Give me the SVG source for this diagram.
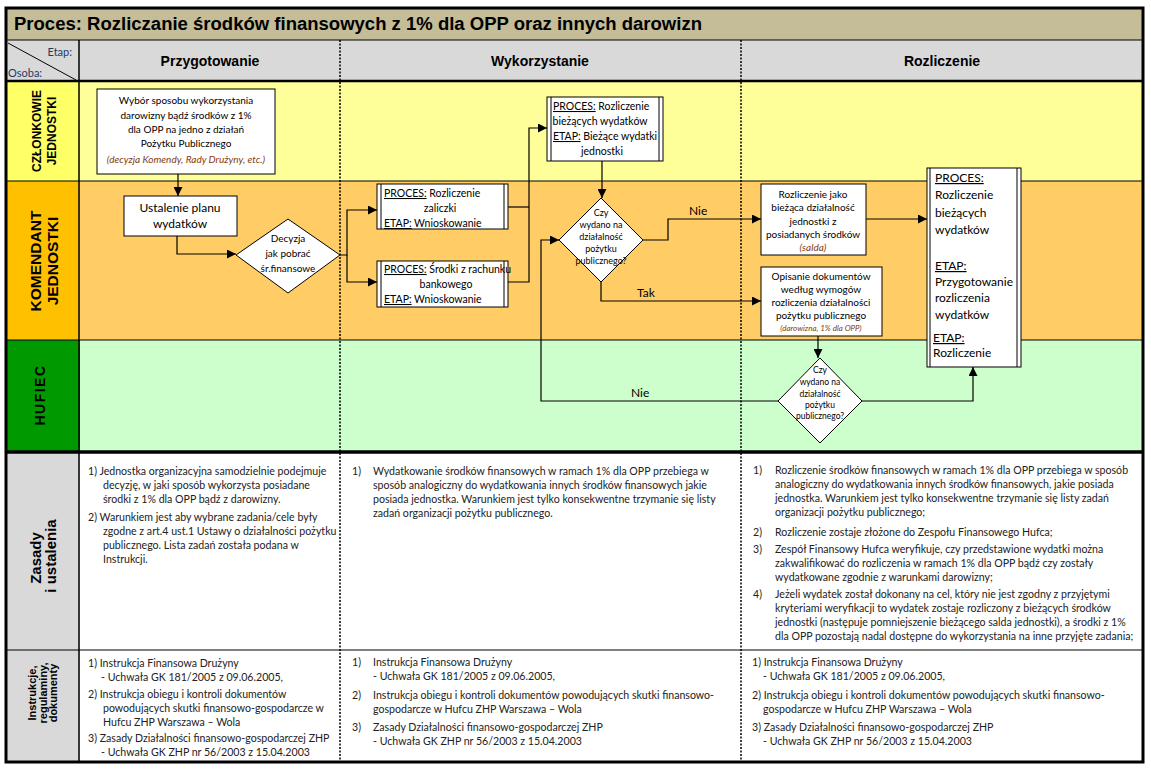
<svg xmlns="http://www.w3.org/2000/svg" width="1151" height="771" viewBox="0 0 1151 771">
<style>
.hdr{font-family:"Liberation Sans",Arial,sans-serif;font-weight:bold;font-size:14px;fill:#000;text-anchor:middle}
.lbl{font-family:"Liberation Sans",Arial,sans-serif;font-weight:bold;fill:#000;text-anchor:middle}
.t{font-family:Lato,"Open Sans",sans-serif;fill:#000}
.tc{font-family:Lato,"Open Sans",sans-serif;fill:#000;text-anchor:middle}
.it{font-style:italic;fill:#843C0C}
.u{text-decoration:underline}
.box{fill:#fff;stroke:#000;stroke-width:1}
.dash{stroke:#000;stroke-width:1.5;stroke-dasharray:2,1.5}
.ln{stroke:#000;stroke-width:1;fill:none}
.conn path{fill:none;stroke:#000;stroke-width:1.2}
.body{font-family:Lato,"Open Sans",sans-serif;font-size:10.6px;fill:#222}
</style>
<defs>
<marker id="ar" viewBox="0 0 10 10" refX="10" refY="5" markerWidth="9" markerHeight="9" markerUnits="userSpaceOnUse" orient="auto"><path d="M0,0 L10,5 L0,10 z" fill="#000"/></marker>
</defs>
<rect width="1151" height="771" fill="#fff"/>
<g id="title">
<rect x="6" y="8" width="1137" height="32" fill="#C4BD97"/>
<text x="14" y="30" textLength="688" lengthAdjust="spacingAndGlyphs" style="font-family:'Liberation Sans',Arial,sans-serif;font-weight:bold;font-size:18px">Proces:  Rozliczanie środków finansowych z 1% dla OPP oraz innych darowizn</text>
</g>
<g id="header">
<rect x="6" y="40" width="1137" height="41" fill="#D9D9D9"/>
<line x1="8" y1="43" x2="76" y2="80" class="ln"/>
<text x="72" y="56" style="font-family:Lato,sans-serif;font-size:11px;fill:#1F3864;text-anchor:end">Etap:</text>
<text x="8" y="77" style="font-family:Lato,sans-serif;font-size:11px;fill:#1F3864">Osoba:</text>
<text x="210" y="66" class="hdr">Przygotowanie</text>
<text x="540" y="66" class="hdr">Wykorzystanie</text>
<text x="942" y="66" class="hdr">Rozliczenie</text>
</g>
<g id="lane-czlonkowie">
<rect x="6" y="81" width="74" height="100" fill="#FFFF66"/>
<rect x="80" y="81" width="1063" height="100" fill="#FFFF99"/>
<text class="lbl" font-size="12" transform="translate(41,131) rotate(-90)">CZŁONKOWIE</text>
<text class="lbl" font-size="12" transform="translate(56,131) rotate(-90)">JEDNOSTKI</text>
</g>
<g id="lane-komendant">
<rect x="6" y="181" width="74" height="159" fill="#FFC000"/>
<rect x="80" y="181" width="1063" height="159" fill="#FFCC66"/>
<text class="lbl" font-size="15.5" transform="translate(41,261) rotate(-90)">KOMENDANT</text>
<text class="lbl" font-size="15.5" transform="translate(58,261) rotate(-90)">JEDNOSTKI</text>
</g>
<g id="lane-hufiec">
<rect x="6" y="340" width="74" height="111" fill="#009900"/>
<rect x="80" y="340" width="1063" height="111" fill="#CCFFCC"/>
<text class="lbl" font-size="14" letter-spacing="1.5" transform="translate(45,395) rotate(-90)">HUFIEC</text>
</g>
<g id="row-zasady">
<rect x="6" y="452" width="74" height="198" fill="#D9D9D9"/>
<text class="lbl" font-size="15" transform="translate(41,558) rotate(-90)">Zasady</text>
<text class="lbl" font-size="15" transform="translate(56,556) rotate(-90)">i ustalenia</text>
</g>
<g id="row-instrukcje">
<rect x="6" y="650" width="74" height="112" fill="#D9D9D9"/>
<text class="lbl" font-size="11" transform="translate(36,693) rotate(-90)">Instrukcje,</text>
<text class="lbl" font-size="11" transform="translate(47,693) rotate(-90)">regulaminy,</text>
<text class="lbl" font-size="11" transform="translate(57,693) rotate(-90)">dokumenty</text>
</g>
<g id="grid">
<line x1="6" y1="40" x2="1143" y2="40" class="ln"/>
<line x1="6" y1="81" x2="1143" y2="81" stroke="#000" stroke-width="2.5"/>
<line x1="6" y1="181" x2="1143" y2="181" class="ln"/>
<line x1="6" y1="340" x2="1143" y2="340" class="ln"/>
<line x1="6" y1="452" x2="1143" y2="452" stroke="#000" stroke-width="3.5"/>
<line x1="6" y1="650" x2="1143" y2="650" class="ln"/>
<line x1="79" y1="40" x2="79" y2="762" stroke="#000" stroke-width="1.5"/>
<line x1="340" y1="40" x2="340" y2="762" class="dash"/>
<line x1="741" y1="40" x2="741" y2="762" class="dash"/>
<rect x="6" y="8" width="1137" height="754" fill="none" stroke="#000" stroke-width="3"/>
</g>
<g id="n-wybor" style="font-size:10px">
<rect x="97" y="89" width="178" height="85" class="box"/>
<text class="tc" x="186" y="104">Wybór sposobu wykorzystania</text>
<text class="tc" x="186" y="119">darowizny bądź środków  z 1%</text>
<text class="tc" x="186" y="133">dla OPP na jedno z działań</text>
<text class="tc" x="186" y="147">Pożytku Publicznego</text>
<text class="tc it" x="186" y="163">(decyzja Komendy, Rady Drużyny, etc.)</text>
</g>
<g id="n-ustalenie" style="font-size:12px">
<rect x="124" y="196" width="113" height="40" class="box"/>
<text class="tc" x="180" y="212">Ustalenie planu</text>
<text class="tc" x="180" y="228">wydatków</text>
</g>
<g id="n-decyzja" style="font-size:10px">
<polygon points="236,255 288,219 340,255 288,293" class="box"/>
<text class="tc" x="288" y="242">Decyzja</text>
<text class="tc" x="288" y="257">jak pobrać</text>
<text class="tc" x="288" y="272">śr.finansowe</text>
</g>
<g id="n-zaliczki" style="font-size:10.5px">
<rect x="377" y="184" width="131" height="45" class="box"/>
<line x1="381" y1="184" x2="381" y2="229" class="ln"/>
<line x1="504" y1="184" x2="504" y2="229" class="ln"/>
<text class="t" x="384" y="197"><tspan class="u">PROCES:</tspan> Rozliczenie</text>
<text class="tc" x="440" y="212">zaliczki</text>
<text class="t" x="384" y="227"><tspan class="u">ETAP:</tspan> Wnioskowanie</text>
</g>
<g id="n-rachunek" style="font-size:10.5px">
<rect x="377" y="261" width="131" height="46" class="box"/>
<line x1="381" y1="261" x2="381" y2="307" class="ln"/>
<line x1="504" y1="261" x2="504" y2="307" class="ln"/>
<text class="t" x="384" y="273"><tspan class="u">PROCES:</tspan> Środki z rachunku</text>
<text class="tc" x="446" y="288">bankowego</text>
<text class="t" x="384" y="303"><tspan class="u">ETAP:</tspan> Wnioskowanie</text>
</g>
<g id="n-biezace" style="font-size:10.5px">
<rect x="547" y="97" width="116" height="64" class="box"/>
<line x1="551" y1="97" x2="551" y2="161" class="ln"/>
<line x1="659" y1="97" x2="659" y2="161" class="ln"/>
<text class="t" x="553" y="110"><tspan class="u">PROCES:</tspan> Rozliczenie</text>
<text class="tc" x="600" y="125">bieżących wydatków</text>
<text class="t" x="553" y="140"><tspan class="u">ETAP:</tspan> Bieżące wydatki</text>
<text class="tc" x="602" y="155">jednostki</text>
</g>
<g id="n-czy1" style="font-size:9px">
<polygon points="559,240 601,198 643,240 601,282" class="box"/>
<text class="tc" x="601" y="216">Czy</text>
<text class="tc" x="601" y="228">wydano na</text>
<text class="tc" x="601" y="240">działalność</text>
<text class="tc" x="601" y="252">pożytku</text>
<text class="tc" x="601" y="264">publicznego?</text>
</g>
<g id="n-salda" style="font-size:10px">
<rect x="761" y="184" width="105" height="71" class="box"/>
<text class="tc" x="813" y="198">Rozliczenie jako</text>
<text class="tc" x="813" y="211">bieżąca działalność</text>
<text class="tc" x="813" y="225">jednostki z</text>
<text class="tc" x="813" y="238">posiadanych środków</text>
<text class="tc it" x="813" y="251">(salda)</text>
</g>
<g id="n-opisanie" style="font-size:10px">
<rect x="761" y="267" width="121" height="69" class="box"/>
<text class="tc" x="821" y="280">Opisanie dokumentów</text>
<text class="tc" x="821" y="293">według wymogów</text>
<text class="tc" x="821" y="306">rozliczenia działalności</text>
<text class="tc" x="821" y="319">pożytku publicznego</text>
<text class="tc it" x="821" y="331" style="font-size:8px">(darowizna, 1% dla OPP)</text>
</g>
<g id="n-rozliczenie" style="font-size:12px">
<rect x="927" y="168" width="94" height="199" class="box"/>
<line x1="930" y1="168" x2="930" y2="367" class="ln"/>
<line x1="1017" y1="168" x2="1017" y2="367" class="ln"/>
<text class="t" x="935" y="182"><tspan class="u">PROCES:</tspan></text>
<text class="t" x="935" y="199">Rozliczenie</text>
<text class="t" x="935" y="217">bieżących</text>
<text class="t" x="935" y="234">wydatków</text>
<text class="t" x="935" y="270"><tspan class="u">ETAP:</tspan></text>
<text class="t" x="935" y="286">Przygotowanie</text>
<text class="t" x="935" y="302">rozliczenia</text>
<text class="t" x="935" y="319">wydatków</text>
<text class="t" x="933" y="342"><tspan class="u">ETAP:</tspan></text>
<text class="t" x="933" y="357">Rozliczenie</text>
</g>
<g id="n-czy2" style="font-size:8.5px">
<polygon points="778,401 820,358 862,401 820,443" class="box"/>
<text class="tc" x="820" y="373">Czy</text>
<text class="tc" x="820" y="385">wydano na</text>
<text class="tc" x="820" y="397">działalność</text>
<text class="tc" x="820" y="408">pożytku</text>
<text class="tc" x="820" y="419">publicznego?</text>
</g>
<g id="connectors" class="conn">
<path d="M178,174 V196" marker-end="url(#ar)"/>
<path d="M177,236 V254 H236" marker-end="url(#ar)"/>
<path d="M340,255 H347 V210 H377" marker-end="url(#ar)"/>
<path d="M347,255 V282 H377" marker-end="url(#ar)"/>
<path d="M508,207 H529"/>
<path d="M508,282 H529 V128 H547" marker-end="url(#ar)"/>
<path d="M602,161 V198" marker-end="url(#ar)"/>
<path d="M643,240 H668 V219 H761" marker-end="url(#ar)"/>
<path d="M601,282 V301 H761" marker-end="url(#ar)"/>
<path d="M866,219 H927" marker-end="url(#ar)"/>
<path d="M818,336 V358" marker-end="url(#ar)"/>
<path d="M778,401 H541 V240 H559" marker-end="url(#ar)"/>
<path d="M862,401 H973 V367" marker-end="url(#ar)" stroke="#444" stroke-width="1.8"/>
</g>
<g id="connector-labels" style="font-size:12px">
<text class="t" x="689" y="215">Nie</text>
<text class="t" x="637" y="297">Tak</text>
<text class="t" x="631" y="397">Nie</text>
</g>
<g id="zasady-1" class="body">
<text x="88" y="475">1) Jednostka organizacyjna samodzielnie podejmuje</text>
<text x="103" y="489">decyzję, w jaki sposób wykorzysta posiadane</text>
<text x="103" y="503">środki z 1% dla OPP bądź z darowizny.</text>
<text x="88" y="521">2) Warunkiem jest aby wybrane zadania/cele były</text>
<text x="103" y="535">zgodne z art.4 ust.1 Ustawy o działalności pożytku</text>
<text x="103" y="549">publicznego. Lista zadań została podana w</text>
<text x="103" y="563">Instrukcji.</text>
</g>
<g id="zasady-2" class="body">
<text x="352" y="475">1)</text>
<text x="373" y="475">Wydatkowanie środków finansowych w ramach 1% dla OPP przebiega w</text>
<text x="373" y="489">sposób analogiczny do wydatkowania innych środków finansowych jakie</text>
<text x="373" y="503">posiada jednostka. Warunkiem jest tylko konsekwentne trzymanie się listy</text>
<text x="373" y="517">zadań organizacji pożytku publicznego.</text>
</g>
<g id="zasady-3" class="body">
<text x="753" y="474">1)</text>
<text x="775" y="474">Rozliczenie  środków finansowych w ramach 1% dla OPP przebiega w sposób</text>
<text x="775" y="488">analogiczny do wydatkowania innych środków finansowych, jakie posiada</text>
<text x="775" y="502">jednostka. Warunkiem jest tylko konsekwentne trzymanie się listy zadań</text>
<text x="775" y="516">organizacji pożytku publicznego;</text>
<text x="753" y="536">2)</text>
<text x="775" y="536">Rozliczenie zostaje złożone do Zespołu Finansowego Hufca;</text>
<text x="753" y="553">3)</text>
<text x="775" y="553">Zespół Finansowy Hufca weryfikuje, czy przedstawione wydatki można</text>
<text x="775" y="567">zakwalifikować do rozliczenia w ramach 1% dla OPP bądź czy zostały</text>
<text x="775" y="581">wydatkowane zgodnie z warunkami darowizny;</text>
<text x="753" y="598">4)</text>
<text x="775" y="598">Jeżeli wydatek został dokonany na cel, który nie jest zgodny z przyjętymi</text>
<text x="775" y="612">kryteriami weryfikacji to wydatek zostaje rozliczony z bieżących środków</text>
<text x="775" y="626">jednostki (następuje pomniejszenie bieżącego salda jednostki), a środki z 1%</text>
<text x="775" y="640">dla OPP pozostają nadal dostępne do wykorzystania na inne przyjęte zadania;</text>
</g>
<g id="instr-1" class="body">
<text x="88" y="667">1) Instrukcja Finansowa Drużyny</text>
<text x="101" y="681">- Uchwała GK 181/2005 z 09.06.2005,</text>
<text x="88" y="698">2) Instrukcja obiegu i kontroli dokumentów</text>
<text x="103" y="712">powodujących skutki finansowo-gospodarcze w</text>
<text x="103" y="726">Hufcu ZHP Warszawa – Wola</text>
<text x="88" y="742">3) Zasady Działalności finansowo-gospodarczej ZHP</text>
<text x="101" y="756">- Uchwała GK ZHP nr 56/2003 z 15.04.2003</text>
</g>
<g id="instr-2" class="body">
<text x="352" y="666">1)</text>
<text x="373" y="666">Instrukcja Finansowa Drużyny</text>
<text x="373" y="680">- Uchwała GK 181/2005 z 09.06.2005,</text>
<text x="352" y="699">2)</text>
<text x="373" y="699">Instrukcja obiegu i kontroli dokumentów powodujących skutki finansowo-</text>
<text x="373" y="713">gospodarcze w Hufcu ZHP Warszawa – Wola</text>
<text x="352" y="731">3)</text>
<text x="373" y="731">Zasady Działalności finansowo-gospodarczej ZHP</text>
<text x="373" y="745">- Uchwała GK ZHP nr 56/2003 z 15.04.2003</text>
</g>
<g id="instr-3" class="body">
<text x="752" y="666">1) Instrukcja Finansowa Drużyny</text>
<text x="763" y="680">- Uchwała GK 181/2005 z 09.06.2005,</text>
<text x="752" y="699">2) Instrukcja obiegu i kontroli dokumentów powodujących skutki finansowo-</text>
<text x="763" y="713">gospodarcze w Hufcu ZHP Warszawa – Wola</text>
<text x="752" y="731">3) Zasady Działalności finansowo-gospodarczej ZHP</text>
<text x="763" y="745">- Uchwała GK ZHP nr 56/2003 z 15.04.2003</text>
</g>
</svg>
